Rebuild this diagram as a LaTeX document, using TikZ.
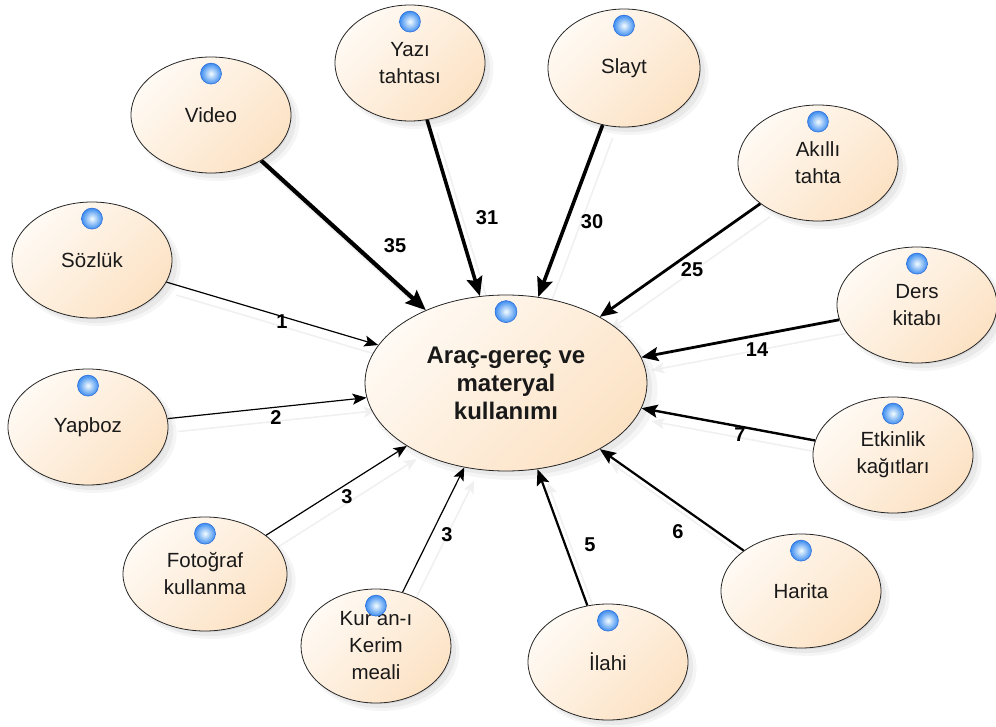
\documentclass[tikz,border=0pt]{standalone}
\usepackage{fontspec}
\setmainfont{Liberation Sans}
\usetikzlibrary{shapes.geometric,arrows.meta,shadows,backgrounds}
\definecolor{peachA}{RGB}{255,250,244}
\definecolor{peachB}{RGB}{252,226,196}
\definecolor{ballA}{RGB}{245,253,255}
\definecolor{ballB}{RGB}{60,140,240}
\definecolor{ballC}{RGB}{40,105,215}
\begin{document}
\begin{tikzpicture}[x=1pt,y=-1pt,
  softshadow/.style={
    general shadow={fill=black, opacity=0.04, shadow xshift=6pt, shadow yshift=-6pt, shadow scale=1.03},
    general shadow={fill=black, opacity=0.05, shadow xshift=5pt, shadow yshift=-5pt, shadow scale=1.0},
    general shadow={fill=black, opacity=0.06, shadow xshift=3pt, shadow yshift=-3pt, shadow scale=0.97}},
  bub/.style={ellipse, draw=black!85, line width=0.8pt, inner sep=0pt, align=center,
    top color=peachA, bottom color=peachB, shading angle=45, softshadow,
    minimum width=160pt, minimum height=116pt,
    text=black!90, font=\fontsize{20.5}{27}\selectfont},
  hub/.style={bub, minimum width=282pt, minimum height=176pt,
    font=\bfseries\fontsize{24}{28}\selectfont},
  icon/.style={inner color=ballA, outer color=ballB, draw=ballC, line width=0.5pt},
  lbl/.style={font=\bfseries\fontsize{20}{20}\selectfont, text=black, inner sep=1pt},
  edgeshadow/.style={draw=black!6, line width=1.6pt,
    transform canvas={xshift=10pt, yshift=-13pt}}
]
\useasboundingbox (0,0) rectangle (996,727);

% central concept
\node[hub] (main) at (506,383) {Araç-gereç ve\\materyal\\kullanımı};

% surrounding items
\node[bub] (video)    at (211,115) {Video};
\node[bub, minimum width=150pt] (yazi) at (410,63) {Yazı\\tahtası};
\node[bub, minimum width=152pt, minimum height=118pt] (slayt) at (624,68) {Slayt};
\node[bub] (akilli)   at (818,163) {Akıllı\\tahta};
\node[bub] (ders)     at (917,305) {Ders\\kitabı};
\node[bub] (etkinlik) at (893,455) {Etkinlik\\kağıtları};
\node[bub, minimum height=114pt] (harita) at (801,591) {Harita};
\node[bub] (ilahi)    at (608,662) {İlahi};
\node[bub, minimum width=150pt, minimum height=114pt] (kuran) at (376,646) {Kur'an-ı\\Kerim\\meali};
\node[bub, minimum width=164pt, minimum height=114pt] (foto) at (205,574) {Fotoğraf\\kullanma};
\node[bub] (yapboz)   at (88,427) {Yapboz};
\node[bub] (sozluk)   at (92,260) {Sözlük};

% blue marker on each ellipse
\shade[icon] ([yshift=-17pt]main.north) circle (11);
\foreach \n in {video,yazi,slayt,akilli,ders,etkinlik,harita,ilahi,kuran,foto,yapboz,sozluk}
  \shade[icon] ([yshift=-17pt]\n.north) circle (10.5);

% weighted connectors into the central concept
\begin{pgfonlayer}{background}
  \foreach \src/\w/\hl/\hw in {video/4.2/20/17, yazi/3.6/19/16, slayt/3.6/19/16,
      akilli/2.8/17/14, ders/2.8/17/14, etkinlik/2.4/16/13, harita/2.2/16/13,
      ilahi/2.2/16/13, kuran/1.2/13/11, foto/1.2/13/11, yapboz/1.2/14/11, sozluk/1.2/14/11} {
    \draw[edgeshadow, -{Stealth[length=13pt, width=11pt, inset=3pt]}] (\src) -- (main);
    \draw[line width=\w pt, -{Stealth[length=\hl pt, width=\hw pt, inset=3pt]}] (\src) -- (main);
  }
\end{pgfonlayer}

% connector weights
\node[lbl] (l35) at (395,246) {35};
\node[lbl] (l31) at (487,218) {31};
\node[lbl] (l30) at (592,222) {30};
\node[lbl] (l25) at (692,270) {25};
\node[lbl] (l14) at (757,350) {14};
\node[lbl] (l7)  at (740,435) {7};
\node[lbl] (l6)  at (678,532) {6};
\node[lbl] (l5)  at (590,545) {5};
\node[lbl] (l3a) at (447,535) {3};
\node[lbl] (l3b) at (347,497) {3};
\node[lbl] (l2)  at (276,418) {2};
\node[lbl] (l1)  at (282,322) {1};
\end{tikzpicture}
\end{document}
